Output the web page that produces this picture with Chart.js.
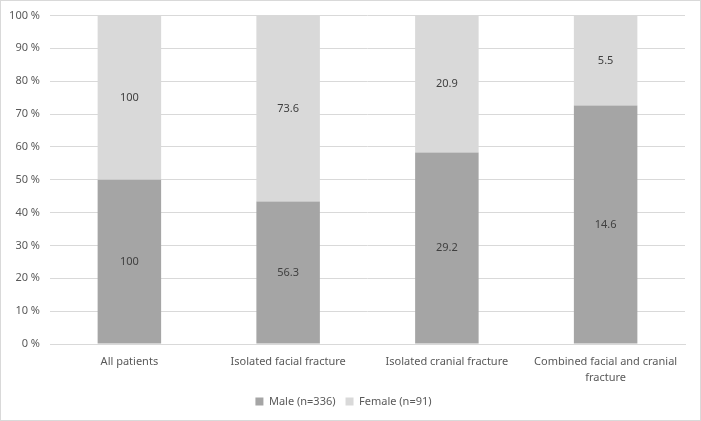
<!DOCTYPE html>
<html>
<head>
<meta charset="utf-8">
<script src="https://cdn.jsdelivr.net/npm/chart.js@4"></script>
<style>
  html, body { margin: 0; padding: 0; background: #fff; }
  #wrap { width: 701px; height: 421px; position: relative; }
</style>
</head>
<body>
<div id="wrap"><canvas id="myChart"></canvas></div>
<script>
  const categories = [
    "All patients",
    "Isolated facial fracture",
    "Isolated cranial fracture",
    ["Combined facial and cranial", "fracture"]
  ];
  const maleValues = [100, 56.3, 29.2, 14.6];
  const femaleValues = [100, 73.6, 20.9, 5.5];
  const seriesNames = ["Male (n=336)", "Female (n=91)"];

  // share of each series within its category (100 % stacked)
  const share = (a, b) => a.map((v, i) => (v / (v + b[i])) * 100);
  const malePct = share(maleValues, femaleValues);
  const femalePct = share(femaleValues, maleValues);

  const textColor = "#595959";
  const gridColor = "#d9d9d9";
  const fontFamily = "'Noto Sans', 'Open Sans', sans-serif";

  const frame = {
    id: "frame",
    afterDraw(chart) {
      const c = chart.ctx;
      c.save();
      c.strokeStyle = gridColor;
      c.lineWidth = 1;
      c.strokeRect(0.5, 0.5, chart.width - 1, chart.height - 1);
      c.restore();
    }
  };

  const barLabels = {
    id: "barLabels",
    afterDatasetsDraw(chart) {
      const c = chart.ctx;
      c.save();
      c.fillStyle = "#404040";
      c.font = "11px " + fontFamily;
      c.textAlign = "center";
      c.textBaseline = "middle";
      const raw = [maleValues, femaleValues];
      chart.data.datasets.forEach((ds, di) => {
        chart.getDatasetMeta(di).data.forEach((bar, i) => {
          const mid = (bar.y + bar.base) / 2;
          c.fillText(String(raw[di][i]), bar.x, mid);
        });
      });
      c.restore();
    }
  };

  new Chart(document.getElementById("myChart"), {
    type: "bar",
    data: {
      labels: categories,
      datasets: [
        {
          label: seriesNames[0],
          data: malePct,
          backgroundColor: "#a5a5a5",
          categoryPercentage: 1,
          barPercentage: 0.4
        },
        {
          label: seriesNames[1],
          data: femalePct,
          backgroundColor: "#d9d9d9",
          categoryPercentage: 1,
          barPercentage: 0.4
        }
      ]
    },
    options: {
      responsive: true,
      maintainAspectRatio: false,
      animation: false,
      layout: { padding: { left: 2, right: 16, top: 7, bottom: 4 } },
      plugins: {
        tooltip: { enabled: false },
        legend: {
          position: "bottom",
          labels: {
            color: textColor,
            boxWidth: 8,
            boxHeight: 8,
            padding: 10,
            font: { family: fontFamily, size: 11 }
          }
        }
      },
      scales: {
        x: {
          stacked: true,
          grid: { display: false },
          border: { color: gridColor },
          ticks: {
            color: textColor,
            maxRotation: 0,
            padding: 2,
            font: { family: fontFamily, size: 11, lineHeight: 1.45 }
          },
          afterFit(s) { s.height = 42; }
        },
        y: {
          stacked: true,
          min: 0,
          max: 100,
          grid: { color: gridColor, drawTicks: false },
          border: { display: false },
          ticks: {
            stepSize: 10,
            color: textColor,
            padding: 10,
            font: { family: fontFamily, size: 11, lineHeight: 1 },
            callback: v => v + " %"
          },
          afterFit(s) { s.width = 48; }
        }
      }
    },
    plugins: [frame, barLabels]
  });
</script>
</body>
</html>
